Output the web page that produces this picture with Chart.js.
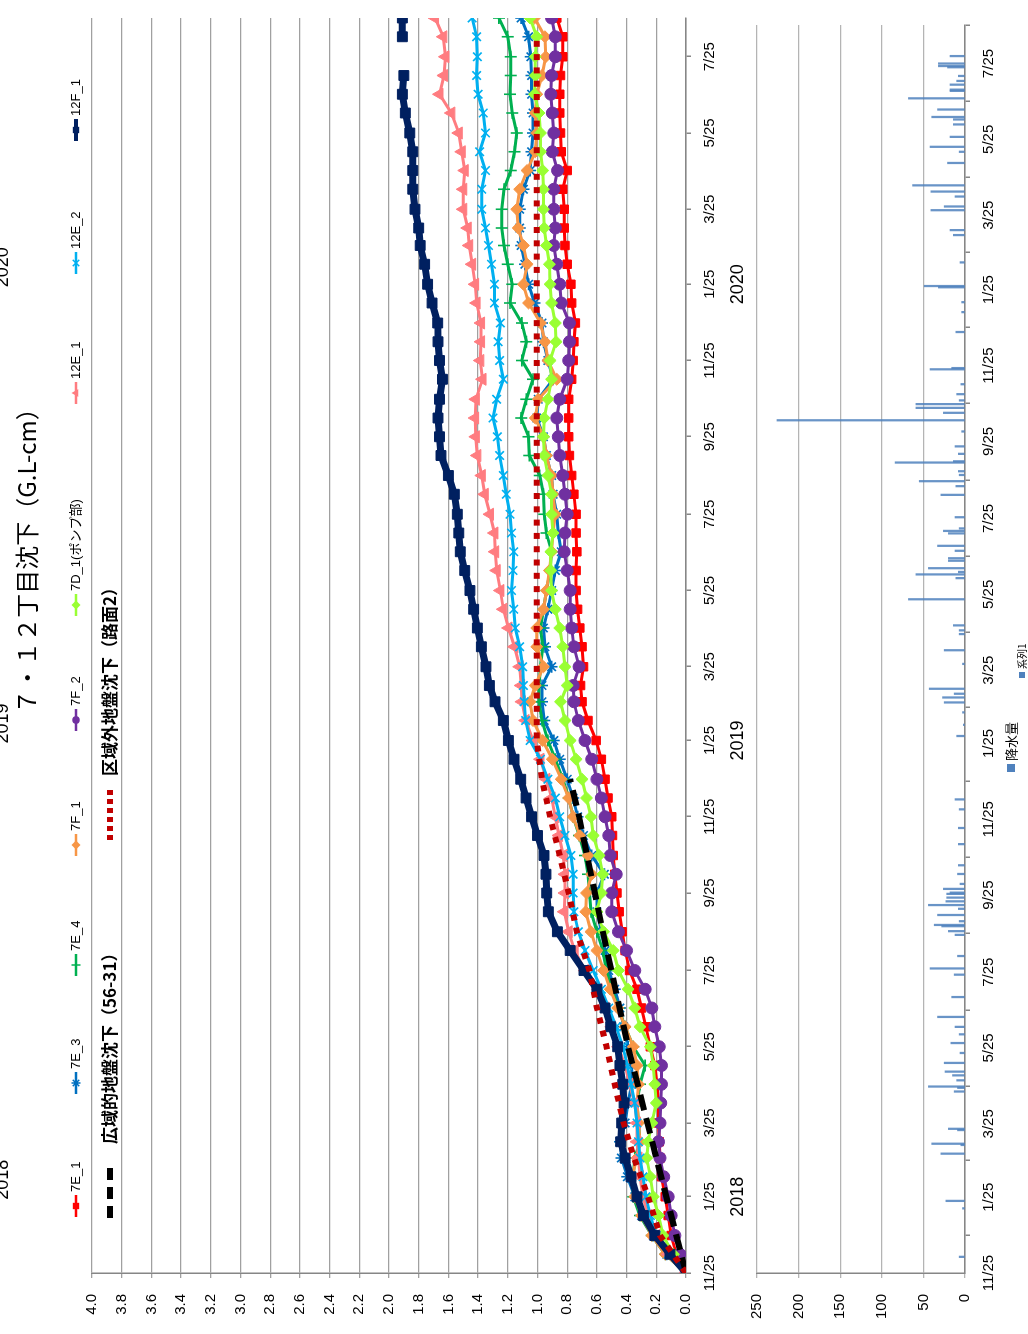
<!DOCTYPE html>
<html>
<head>
<meta charset="utf-8">
<script src="https://cdn.jsdelivr.net/npm/chart.js@4.4.1/dist/chart.umd.min.js"></script>
<style>
  html, body { margin: 0; padding: 0; background: #fff; overflow: hidden; width: 1028px; height: 1334px; }
  /* the chart is laid out landscape and turned a quarter to the left, like the scanned sheet */
  #page { position: absolute; left: 0; top: 0; width: 1334px; height: 1028px;
          transform-origin: 0 0; transform: translate(0, 1334px) rotate(-90deg); }
  #settleBox { position: absolute; left: 0; top: 0; }
  #rainBox { position: absolute; left: 0; top: 740px; }
</style>
</head>
<body>
<div id="page">
  <div id="settleBox"><canvas id="settleChart" width="1334" height="770"></canvas></div>
  <div id="rainBox"><canvas id="rainChart" width="1334" height="288"></canvas></div>
</div>
<script>
// sample dates (every half month)
const dates = [
  '2017-11-25','2017-12-10','2017-12-25',
  '2018-01-10','2018-01-25','2018-02-10','2018-02-25','2018-03-10','2018-03-25','2018-04-10','2018-04-25',
  '2018-05-10','2018-05-25','2018-06-10','2018-06-25','2018-07-10','2018-07-25','2018-08-10','2018-08-25',
  '2018-09-10','2018-09-25','2018-10-10','2018-10-25','2018-11-10','2018-11-25','2018-12-10','2018-12-25',
  '2019-01-10','2019-01-25','2019-02-10','2019-02-25','2019-03-10','2019-03-25','2019-04-10','2019-04-25',
  '2019-05-10','2019-05-25','2019-06-10','2019-06-25','2019-07-10','2019-07-25','2019-08-10','2019-08-25',
  '2019-09-10','2019-09-25','2019-10-10','2019-10-25','2019-11-10','2019-11-25','2019-12-10','2019-12-25',
  '2020-01-10','2020-01-25','2020-02-10','2020-02-25','2020-03-10','2020-03-25','2020-04-10','2020-04-25',
  '2020-05-10','2020-05-25','2020-06-10','2020-06-25','2020-07-10','2020-07-25','2020-08-10','2020-08-25'
];

// settlement (cm)
const s7E1 = [0, 0.065, 0.10,
  0.12, 0.14, 0.165, 0.175, 0.18, 0.185, 0.185, 0.195, 0.21, 0.24, 0.27, 0.30, 0.33, 0.38, 0.41, 0.43, 0.45, 0.465, 0.48, 0.49, 0.495, 0.50, 0.525, 0.545,
  0.57, 0.605, 0.66, 0.70, 0.71, 0.69, 0.70, 0.715, 0.73, 0.74, 0.74, 0.735, 0.74, 0.74, 0.755, 0.77, 0.785, 0.79, 0.79, 0.79, 0.77, 0.76, 0.755, 0.745,
  0.77, 0.775, 0.80, 0.815, 0.82, 0.82, 0.83, 0.80, 0.84, 0.845, 0.85, 0.85, 0.845, 0.83, 0.83, 0.87];
const s7E3 = [0, 0.13, 0.22,
  0.30, 0.345, 0.395, 0.435, 0.445, 0.41, 0.39, 0.365, 0.365, 0.39, 0.42, 0.445, 0.48, 0.52, 0.545, 0.57, 0.60, 0.60, 0.55, 0.635, 0.69, 0.73, 0.76, 0.80,
  0.85, 0.89, 0.955, 0.97, 0.97, 0.905, 0.95, 0.96, 0.93, 0.905, 0.88, 0.84, 0.86, 0.87, 0.895, 0.905, 0.94, 0.96, 1.005, 0.995, 0.895, 0.93, 0.96, 0.97,
  1.02, 1.06, 1.085, 1.11, 1.12, 1.12, 1.095, 1.05, 1.04, 1.03, 1.03, 1.04, 1.04, 1.045, 1.06, 1.11];
const s7E4 = [0, 0.14, 0.23,
  0.31, 0.355, 0.355, 0.345, 0.31, 0.32, 0.33, 0.31, 0.275, 0.355, 0.41, 0.455, 0.50, 0.535, 0.56, 0.60, 0.64, 0.65, 0.66, 0.68, 0.72, 0.76, 0.79, 0.83,
  0.88, 0.93, 0.97, 0.99, 0.99, 0.98, 0.965, 0.98, 0.96, 0.94, 0.915, 0.905, 0.94, 0.955, 0.96, 0.985, 1.055, 1.06, 1.11, 1.075, 1.03, 1.105, 1.075, 1.105,
  1.185, 1.17, 1.20, 1.225, 1.24, 1.24, 1.225, 1.18, 1.155, 1.14, 1.17, 1.185, 1.18, 1.18, 1.20, 1.26];
const s7F1 = [0, 0.14, 0.23,
  0.30, 0.345, 0.365, 0.33, 0.31, 0.32, 0.33, 0.32, 0.33, 0.355, 0.41, 0.46, 0.51, 0.555, 0.60, 0.64, 0.675, 0.67, 0.635, 0.66, 0.715, 0.76, 0.79, 0.84,
  0.90, 0.965, 1.03, 1.05, 1.015, 0.96, 1.005, 1.005, 0.96, 0.94, 0.92, 0.905, 0.895, 0.88, 0.895, 0.905, 0.94, 0.96, 1.015, 0.995, 0.87, 0.93, 0.95, 0.98,
  1.06, 1.095, 1.07, 1.095, 1.13, 1.14, 1.12, 1.07, 1.015, 1.005, 1.015, 1.005, 0.97, 0.945, 0.95, 1.02];
const s7F2 = [0, 0.04, 0.075,
  0.10, 0.12, 0.15, 0.175, 0.185, 0.175, 0.17, 0.165, 0.165, 0.18, 0.21, 0.23, 0.275, 0.345, 0.40, 0.455, 0.50, 0.50, 0.47, 0.51, 0.52, 0.545, 0.57, 0.60,
  0.635, 0.68, 0.725, 0.755, 0.76, 0.72, 0.755, 0.77, 0.78, 0.78, 0.80, 0.82, 0.815, 0.80, 0.815, 0.83, 0.85, 0.86, 0.87, 0.85, 0.80, 0.79, 0.785, 0.785,
  0.84, 0.85, 0.87, 0.89, 0.88, 0.89, 0.89, 0.865, 0.90, 0.89, 0.90, 0.91, 0.905, 0.88, 0.88, 0.905];
const s7D1 = [0, 0.085, 0.155,
  0.185, 0.22, 0.24, 0.265, 0.255, 0.23, 0.20, 0.21, 0.22, 0.24, 0.31, 0.345, 0.39, 0.455, 0.49, 0.555, 0.60, 0.57, 0.56, 0.585, 0.625, 0.64, 0.67, 0.70,
  0.74, 0.78, 0.815, 0.845, 0.80, 0.815, 0.83, 0.85, 0.88, 0.905, 0.91, 0.91, 0.895, 0.905, 0.905, 0.93, 0.955, 0.96, 0.955, 0.93, 0.905, 0.915, 0.875, 0.88,
  0.905, 0.915, 0.92, 0.94, 0.955, 0.96, 0.96, 0.965, 0.98, 0.98, 0.99, 1.02, 1.015, 1.015, 1.005, 1.05];
const s12E1 = [0, 0.12, 0.20,
  0.255, 0.29, 0.31, 0.32, 0.33, 0.33, 0.345, 0.38, 0.41, 0.455, 0.50, 0.545, 0.59, 0.68, 0.75, 0.79, 0.82, 0.815, 0.815, 0.826, 0.855, 0.88, 0.905, 0.94,
  0.98, 1.03, 1.08, 1.105, 1.11, 1.12, 1.155, 1.195, 1.23, 1.25, 1.275, 1.285, 1.29, 1.32, 1.355, 1.375, 1.405, 1.415, 1.42, 1.415, 1.37, 1.385, 1.38, 1.38,
  1.41, 1.42, 1.44, 1.46, 1.47, 1.50, 1.50, 1.49, 1.51, 1.53, 1.58, 1.66, 1.63, 1.62, 1.634, 1.69];
const s12E2 = [0, 0.12, 0.20,
  0.24, 0.27, 0.29, 0.31, 0.32, 0.33, 0.345, 0.37, 0.395, 0.425, 0.47, 0.52, 0.57, 0.625, 0.68, 0.725, 0.755, 0.76, 0.76, 0.775, 0.815, 0.85, 0.88, 0.93,
  0.98, 1.05, 1.08, 1.09, 1.095, 1.10, 1.12, 1.15, 1.16, 1.175, 1.165, 1.16, 1.175, 1.185, 1.21, 1.23, 1.255, 1.27, 1.30, 1.275, 1.23, 1.255, 1.265, 1.25,
  1.29, 1.29, 1.31, 1.33, 1.35, 1.375, 1.375, 1.35, 1.39, 1.35, 1.365, 1.40, 1.41, 1.405, 1.41, 1.44];
const s12F1 = [0, 0.108, 0.21,
  0.287, 0.33, 0.37, 0.41, 0.44, 0.433, 0.417, 0.426, 0.445, 0.46, 0.507, 0.545, 0.60, 0.687, 0.78, 0.866, 0.927, 0.938, 0.943, 0.956, 1.00, 1.04, 1.077, 1.113,
  1.158, 1.196, 1.23, 1.286, 1.324, 1.347, 1.378, 1.405, 1.43, 1.455, 1.49, 1.52, 1.53, 1.54, 1.56, 1.60, 1.65, 1.66, 1.67, 1.66, 1.64, 1.66, 1.67, 1.672,
  1.71, 1.74, 1.76, 1.79, 1.80, 1.825, 1.84, 1.84, 1.84, 1.86, 1.89, 1.91, 1.90, null, 1.91, 1.91];

// reference lines
const wideDates = ['2017-11-25', '2018-02-25', '2018-05-25', '2018-08-25', '2018-11-25', '2018-12-25'];
const wideVals = [0, 0.20, 0.39, 0.56, 0.72, 0.78];
const outsideDates = ['2017-11-25', '2017-12-25', '2018-01-25', '2018-02-25', '2018-03-25', '2018-04-25', '2018-05-25', '2018-06-25',
  '2018-07-25', '2018-08-25', '2018-09-25', '2018-10-25', '2018-11-25', '2018-12-25', '2019-01-25', '2020-08-10'];
const outsideVals = [0, 0.175, 0.255, 0.35, 0.42, 0.48, 0.535, 0.60, 0.65, 0.735, 0.79, 0.85, 0.915, 0.97, 1.005, 1.005];

// daily rain (mm), days with visible bars
const rainDates = ['2017-12-08', '2018-01-16', '2018-01-22', '2018-03-01', '2018-03-08', '2018-03-09', '2018-03-20', '2018-03-21',
  '2018-04-20', '2018-04-23', '2018-04-24', '2018-04-29', '2018-05-03', '2018-05-06', '2018-05-13', '2018-05-21', '2018-05-29',
  '2018-06-05', '2018-06-11', '2018-06-19', '2018-07-05', '2018-07-23', '2018-07-28', '2018-08-07', '2018-08-24', '2018-08-27',
  '2018-08-31', '2018-09-01', '2018-09-04', '2018-09-09', '2018-09-14', '2018-09-17', '2018-09-20', '2018-09-23', '2018-09-26',
  '2018-09-27', '2018-09-30', '2018-10-04', '2018-10-12', '2018-10-19', '2018-11-05', '2018-11-18', '2018-12-03', '2018-12-11',
  '2019-01-31', '2019-02-09', '2019-02-19', '2019-02-27', '2019-03-03', '2019-03-06', '2019-03-10', '2019-03-30', '2019-04-10',
  '2019-04-23', '2019-04-26', '2019-04-30', '2019-05-21', '2019-06-07', '2019-06-10', '2019-06-12', '2019-06-15', '2019-06-21',
  '2019-06-23', '2019-06-29', '2019-07-03', '2019-07-13', '2019-07-15', '2019-07-17', '2019-07-26', '2019-08-13', '2019-08-20',
  '2019-08-24', '2019-08-29', '2019-09-01', '2019-09-08', '2019-09-09', '2019-09-15', '2019-09-21', '2019-10-03', '2019-10-12',
  '2019-10-18', '2019-10-22', '2019-10-25', '2019-10-28', '2019-11-02', '2019-11-10', '2019-11-22', '2019-11-23', '2019-12-22',
  '2020-01-07', '2020-01-15', '2020-01-27', '2020-01-28', '2020-02-16', '2020-03-09', '2020-03-13', '2020-03-29', '2020-04-01',
  '2020-04-09', '2020-04-13', '2020-04-18', '2020-05-06', '2020-05-15', '2020-05-19', '2020-05-27', '2020-06-06', '2020-06-10',
  '2020-06-12', '2020-06-18', '2020-06-27', '2020-07-03', '2020-07-04', '2020-07-08', '2020-07-11', '2020-07-15', '2020-07-22',
  '2020-07-23', '2020-07-25', '2020-07-31'];
const rainMm = [7, 3, 23, 29, 5, 40, 9, 20,
  13, 9, 44, 10, 15, 24, 25, 6, 17,
  7, 12, 33, 16, 13, 42, 9, 12, 20,
  28, 37, 7, 33, 8, 44, 23, 22, 22,
  18, 26, 6, 9, 8, 8, 8, 7, 12,
  10, 2, 3, 25, 27, 13, 43, 3, 25,
  7, 7, 14, 68, 11, 59, 8, 44, 20,
  20, 12, 33, 20, 26, 7, 12, 29, 11,
  55, 7, 8, 84, 14, 8, 12, 4, 226,
  26, 59, 59, 7, 10, 5, 42, 16, 11,
  4, 4, 32, 49, 6, 14, 18, 41, 25,
  12, 41, 63, 21, 7, 42, 18, 14, 14,
  40, 33, 68, 18, 18, 18, 10, 8, 21,
  32, 32, 18];

const tickDates = ['2017-11-25', '2018-01-25', '2018-03-25', '2018-05-25', '2018-07-25', '2018-09-25', '2018-11-25',
  '2019-01-25', '2019-03-25', '2019-05-25', '2019-07-25', '2019-09-25', '2019-11-25',
  '2020-01-25', '2020-03-25', '2020-05-25', '2020-07-25'];
const yearTicks = ['2018-01-25', '2019-01-25', '2020-01-25'];
const yearNames = ['2018', '2019', '2020'];
const lastDay = '2020-08-25';

const title = '７・１２丁目沈下（G.L-cm）';
const seriesNames = ['7E_1', '7E_3', '7E_4', '7F_1', '7F_2', '7D_1(ポンプ部)', '12E_1', '12E_2', '12F_1'];
const seriesValues = [s7E1, s7E3, s7E4, s7F1, s7F2, s7D1, s12E1, s12E2, s12F1];
const seriesColors = ['#ff0000', '#0070c0', '#00b050', '#f79646', '#7030a0', '#99ff33', '#ff7c80', '#00b0f0', '#002060'];
const seriesMarks = ['rect', 'star', 'cross', 'rectRot', 'circle', 'rectRot', 'triangle', 'crossRot', 'rect'];
const refNames = ['広域的地盤沈下（56-31）', '区域外地盤沈下（路面2）'];

// legend slots: [row, left of sample, gap before text, sample dash]
const legendAt = [[0, 117, 3], [0, 240, 3], [0, 358, 3], [0, 478, 3], [0, 603, 3], [0, 718, 3], [0, 930, 3], [0, 1060, 3], [0, 1193, 3],
  [1, 116, 24, [12, 7]], [1, 494, 14, [5, 4]]];

const FONT = "'Liberation Sans', 'Noto Sans CJK JP', sans-serif";
const CJK = "'Noto Sans CJK JP', 'Liberation Sans', sans-serif";
Chart.defaults.font.family = FONT;
Chart.defaults.color = '#000';

const day = s => (Date.UTC(+s.slice(0, 4), +s.slice(5, 7) - 1, +s.slice(8, 10)) - Date.UTC(2017, 10, 25)) / 864e5;
const tickText = {};
tickDates.forEach(d => { tickText[day(d)] = (+d.slice(5, 7)) + '/' + (+d.slice(8, 10)); });

function drawMark(ctx, style, x, y, r, color) {
  ctx.save();
  ctx.fillStyle = color;
  ctx.strokeStyle = color;
  ctx.lineWidth = 1.5;
  ctx.beginPath();
  const d = r * Math.SQRT1_2;
  if (style === 'rect') { ctx.rect(x - d, y - d, 2 * d, 2 * d); ctx.fill(); }
  else if (style === 'rectRot') { ctx.moveTo(x, y - r); ctx.lineTo(x + r, y); ctx.lineTo(x, y + r); ctx.lineTo(x - r, y); ctx.fill(); }
  else if (style === 'circle') { ctx.arc(x, y, r * 0.85, 0, Math.PI * 2); ctx.fill(); }
  else if (style === 'triangle') { ctx.moveTo(x, y - r); ctx.lineTo(x + r * 0.87, y + r * 0.5); ctx.lineTo(x - r * 0.87, y + r * 0.5); ctx.fill(); }
  else {
    if (style !== 'crossRot') { ctx.moveTo(x, y - r); ctx.lineTo(x, y + r); ctx.moveTo(x - r, y); ctx.lineTo(x + r, y); }
    if (style !== 'cross') { ctx.moveTo(x - d, y - d); ctx.lineTo(x + d, y + d); ctx.moveTo(x - d, y + d); ctx.lineTo(x + d, y - d); }
    ctx.stroke();
  }
  ctx.restore();
}

const lineSets = seriesNames.map((name, i) => ({
  label: name,
  data: dates.map((d, k) => ({ x: day(d), y: seriesValues[i][k] })),
  borderColor: seriesColors[i],
  backgroundColor: seriesColors[i],
  borderWidth: i === 8 ? 7 : 3,
  pointStyle: seriesMarks[i],
  pointRadius: i === 8 ? 7 : (seriesMarks[i] === 'triangle' ? 7 : 6),
  pointBorderWidth: ['star', 'cross', 'crossRot'].includes(seriesMarks[i]) ? 1.6 : 1,
  order: 20 - i
}));
lineSets.push({
  label: refNames[0],
  data: wideDates.map((d, k) => ({ x: day(d), y: wideVals[k] })),
  borderColor: '#000000', borderWidth: 6, borderDash: [16, 8], pointRadius: 0, order: 2
});
lineSets.push({
  label: refNames[1],
  data: outsideDates.map((d, k) => ({ x: day(d), y: outsideVals[k] })),
  borderColor: '#c00000', borderWidth: 6, borderDash: [6, 7.3], pointRadius: 0, order: 1
});

const settleDecor = {
  id: 'settleDecor',
  afterDraw(chart) {
    const ctx = chart.ctx, xs = chart.scales.x;
    ctx.save();
    ctx.fillStyle = '#000';
    ctx.textAlign = 'center';
    ctx.textBaseline = 'middle';
    ctx.font = '24px ' + CJK;
    ctx.fillText(title, 779, 27);
    ctx.font = '18px ' + FONT;
    yearTicks.forEach((d, i) => ctx.fillText(yearNames[i], xs.getPixelForValue(day(d)), 738));
    // year captions of the sheet above, cut by the page edge
    ctx.textBaseline = 'alphabetic';
    yearTicks.forEach((d, i) => ctx.fillText(yearNames[i], xs.getPixelForValue(day(d)) + 17, 8));
    chart.data.datasets.forEach((ds, i) => {
      const [row, x0, gap, dash] = legendAt[i];
      const y = row ? 110 : 76;
      const len = row ? 50 : 22;
      ctx.beginPath();
      ctx.setLineDash(dash || []);
      ctx.lineWidth = row ? ds.borderWidth : (i === 8 ? 4 : 2.5);
      ctx.strokeStyle = ds.borderColor;
      ctx.moveTo(x0, y);
      ctx.lineTo(x0 + len, y);
      ctx.stroke();
      ctx.setLineDash([]);
      if (ds.pointRadius) drawMark(ctx, ds.pointStyle, x0 + len / 2, y, 4.5, ds.borderColor);
      ctx.textAlign = 'left';
      ctx.textBaseline = 'middle';
      ctx.fillStyle = '#000';
      ctx.font = row ? 'bold 17px ' + CJK : '13px ' + FONT;
      ctx.fillText(ds.label, x0 + len + gap, y);
    });
    ctx.restore();
  }
};

function dateAxis(height, border) {
  return {
    type: 'linear', min: 0, max: day(lastDay), offset: false,
    afterBuildTicks: s => { s.ticks = tickDates.map(d => ({ value: day(d) })); },
    afterFit: s => { s.height = height; },
    ticks: { autoSkip: false, maxRotation: 0, minRotation: 0, padding: 10, font: { size: 15 }, callback: v => tickText[v] || '' },
    grid: { drawOnChartArea: false, tickLength: 5, color: border, lineWidth: 1.5 },
    border: { color: border, width: 1.5 }
  };
}

function valueAxis(max, step, label, gridColor) {
  return {
    min: 0, max: max,
    // fixed axis width; no extra room asked for the end labels
    afterFit: s => { s.width = 61; s.paddingTop = 0; s.paddingBottom = 0; },
    ticks: { stepSize: step, padding: 16, font: { size: 15 }, callback: label },
    grid: { color: gridColor, lineWidth: 1.3, tickLength: 5 },
    border: { color: '#868686', width: 1.5 }
  };
}

new Chart('settleChart', {
  type: 'line',
  data: { datasets: lineSets },
  options: {
    responsive: false,
    animation: false,
    layout: { padding: { top: 92, right: 18, left: 0, bottom: 0 } },
    plugins: { legend: { display: false }, tooltip: { enabled: false } },
    elements: { line: { tension: 0 } },
    scales: {
      x: dateAxis(84, '#868686'),
      y: valueAxis(4, 0.2, v => v.toFixed(1), '#a0a0a0')
    }
  },
  plugins: [settleDecor]
});

const rainDecor = {
  id: 'rainDecor',
  afterDraw(chart) {
    const ctx = chart.ctx;
    ctx.save();
    ctx.textBaseline = 'middle';
    ctx.textAlign = 'left';
    [[566, 271, 8, 13], [659, 282, 6, 10]].forEach(([x, y, sz, fs], i) => {
      ctx.fillStyle = '#4f81bd';
      ctx.fillRect(x - sz / 2, y - sz / 2, sz, sz);
      ctx.fillStyle = '#000';
      ctx.font = fs + 'px ' + CJK;
      ctx.fillText(chart.data.datasets[i].label, x + sz / 2 + 3, y);
    });
    ctx.restore();
  }
};

new Chart('rainChart', {
  type: 'bar',
  data: {
    datasets: [
      { label: '降水量', data: rainDates.map((d, k) => ({ x: day(d), y: rainMm[k] })),
        backgroundColor: 'rgba(79,129,189,0.85)', barThickness: 1.6, grouped: false },
      { label: '系列1', data: [], backgroundColor: '#4f81bd' }
    ]
  },
  options: {
    responsive: false,
    animation: false,
    layout: { padding: { top: 17, right: 25, left: 0, bottom: 0 } },
    plugins: { legend: { display: false }, tooltip: { enabled: false } },
    scales: {
      x: dateAxis(63, '#868686'),
      y: valueAxis(250, 50, v => v, '#b4b4b4')
    }
  },
  plugins: [rainDecor]
});
</script>
</body>
</html>
